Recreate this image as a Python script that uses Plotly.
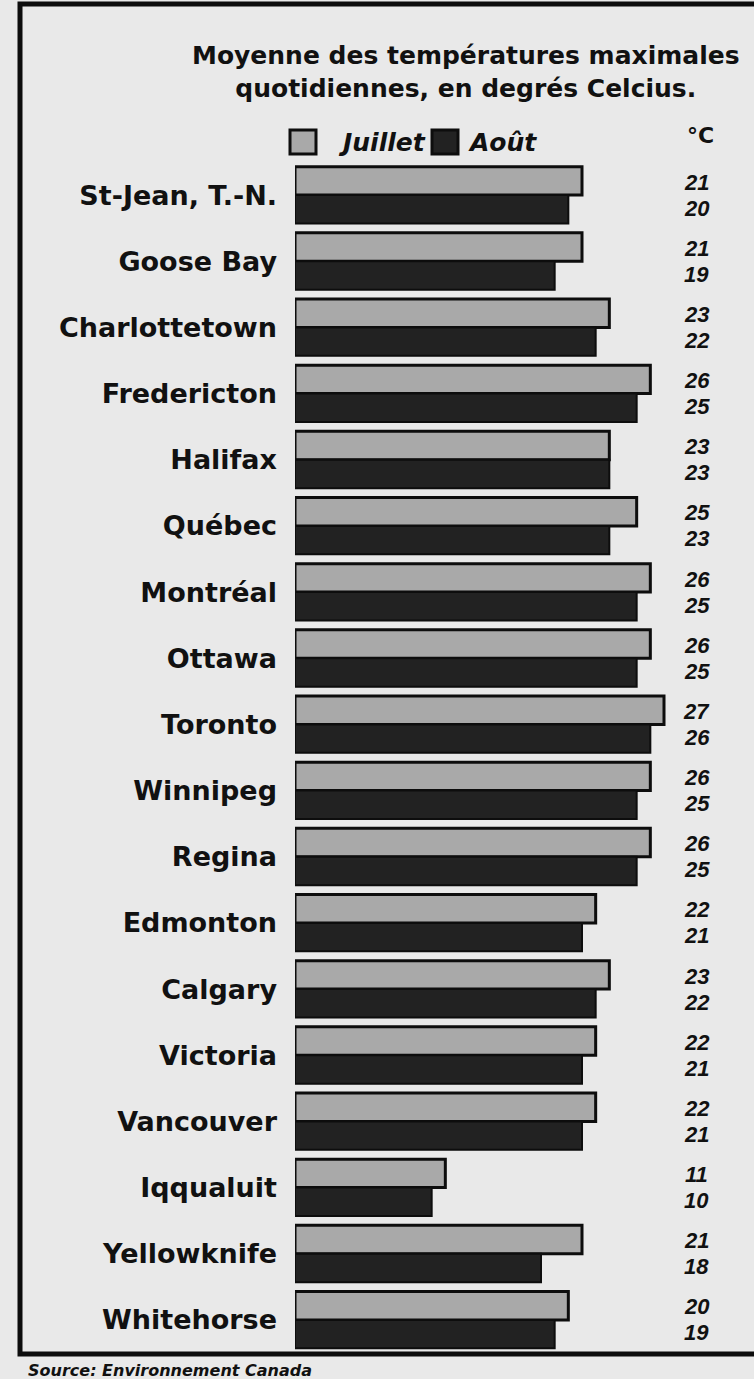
import plotly.graph_objects as go

cities = ["St-Jean, T.-N.", "Goose Bay", "Charlottetown", "Fredericton", "Halifax",
          "Québec", "Montréal", "Ottawa", "Toronto", "Winnipeg", "Regina", "Edmonton",
          "Calgary", "Victoria", "Vancouver", "Iqqualuit", "Yellowknife", "Whitehorse"]
juillet = [21, 21, 23, 26, 23, 25, 26, 26, 27, 26, 26, 22, 23, 22, 22, 11, 21, 20]
aout = [20, 19, 22, 25, 23, 23, 25, 25, 26, 25, 25, 21, 22, 21, 21, 10, 18, 19]

title_lines = ["Moyenne des températures maximales", "quotidiennes, en degrés Celcius."]
series_names = ["Juillet", "Août"]
unit_label = "°C"
source_text = "Source: Environnement Canada"

W, H = 754, 1379
L, R, T, B = 295, 49, 162, 26
XMAX = 30
PW = W - L - R
PH = H - T - B

def px_x(p):
    return (p - L) / PW

def px_y(p):
    return 1 - (p - T) / PH

BG = "#e9e9e9"
INK = "#111111"
FONT = "Liberation Sans, Arial, sans-serif"
WIDE = "DejaVu Sans, Verdana, sans-serif"
JUIL_COL = "#a9a9a9"
AOUT_COL = "#222222"

fig = go.Figure()
fig.add_trace(go.Bar(
    y=cities, x=juillet, orientation="h", name=series_names[0],
    marker=dict(color=JUIL_COL, line=dict(color="#0d0d0d", width=3)),
    hoverinfo="x+y",
))
fig.add_trace(go.Bar(
    y=cities, x=aout, orientation="h", name=series_names[1],
    marker=dict(color=AOUT_COL, line=dict(color="#0d0d0d", width=2)),
    hoverinfo="x+y",
))

annotations = []
for c, j, a in zip(cities, juillet, aout):
    annotations.append(dict(x=29.4, y=c, xref="x", yref="y", text=f"<b><i>{j}</i></b>",
                            xanchor="center", yanchor="middle",
                            showarrow=False, yshift=13, font=dict(size=22, color=INK, family=FONT)))
    annotations.append(dict(x=29.4, y=c, xref="x", yref="y", text=f"<b><i>{a}</i></b>",
                            xanchor="center", yanchor="middle",
                            showarrow=False, yshift=-13, font=dict(size=22, color=INK, family=FONT)))

annotations.append(dict(x=px_x(466), y=px_y(72), xref="paper", yref="paper",
                        xanchor="center", yanchor="middle",
                        text="<b>" + "<br>".join(title_lines) + "</b>", showarrow=False,
                        font=dict(size=25, color=INK, family=WIDE), align="center"))
annotations.append(dict(x=px_x(700), y=px_y(136), xref="paper", yref="paper",
                        xanchor="center", yanchor="middle",
                        text=f"<b>{unit_label}</b>", showarrow=False,
                        font=dict(size=22, color=INK, family=WIDE)))
annotations.append(dict(x=px_x(26), y=px_y(1359), xref="paper", yref="paper",
                        xanchor="left", yanchor="top",
                        text=f"<b><i>{source_text}</i></b>", showarrow=False,
                        font=dict(size=16, color=INK, family=WIDE)))

# manual legend
legend_items = [(290, 316, 336, JUIL_COL, series_names[0]), (432, 458, 466, AOUT_COL, series_names[1])]
shapes = []
for x0, x1, xt, col, name in legend_items:
    shapes.append(dict(type="rect", xref="paper", yref="paper",
                       x0=px_x(x0), x1=px_x(x1), y0=px_y(154), y1=px_y(130),
                       line=dict(color="#0d0d0d", width=3), fillcolor=col))
    annotations.append(dict(x=px_x(xt), y=px_y(142), xref="paper", yref="paper",
                            xanchor="left", yanchor="middle",
                            text=f"<b><i>{name}</i></b>", showarrow=False,
                            font=dict(size=25, color=INK, family=WIDE)))

shapes.append(dict(type="rect", xref="paper", yref="paper",
                   x0=px_x(20), x1=px_x(800), y0=px_y(1354), y1=px_y(4),
                   line=dict(color="#0d0d0d", width=5), fillcolor="rgba(0,0,0,0)", layer="below"))

fig.update_layout(
    width=W, height=H,
    margin=dict(l=L, r=R, t=T, b=B),
    paper_bgcolor=BG, plot_bgcolor=BG,
    barmode="group", bargap=0.14, bargroupgap=0.0,
    showlegend=False,
    xaxis=dict(range=[0, XMAX], visible=False, showgrid=False, zeroline=False),
    yaxis=dict(autorange="reversed", showgrid=False, zeroline=False, showline=False,
               ticks="", ticklabelstandoff=17,
               tickfont=dict(size=27, color=INK, family=WIDE),
               tickmode="array", tickvals=cities,
               ticktext=[f"<b>{c}</b>" for c in cities]),
    annotations=annotations, shapes=shapes,
)

fig.write_html("out.html", config={"displayModeBar": False},
               post_script="document.body.style.margin='0';document.body.style.background='%s';" % BG)
